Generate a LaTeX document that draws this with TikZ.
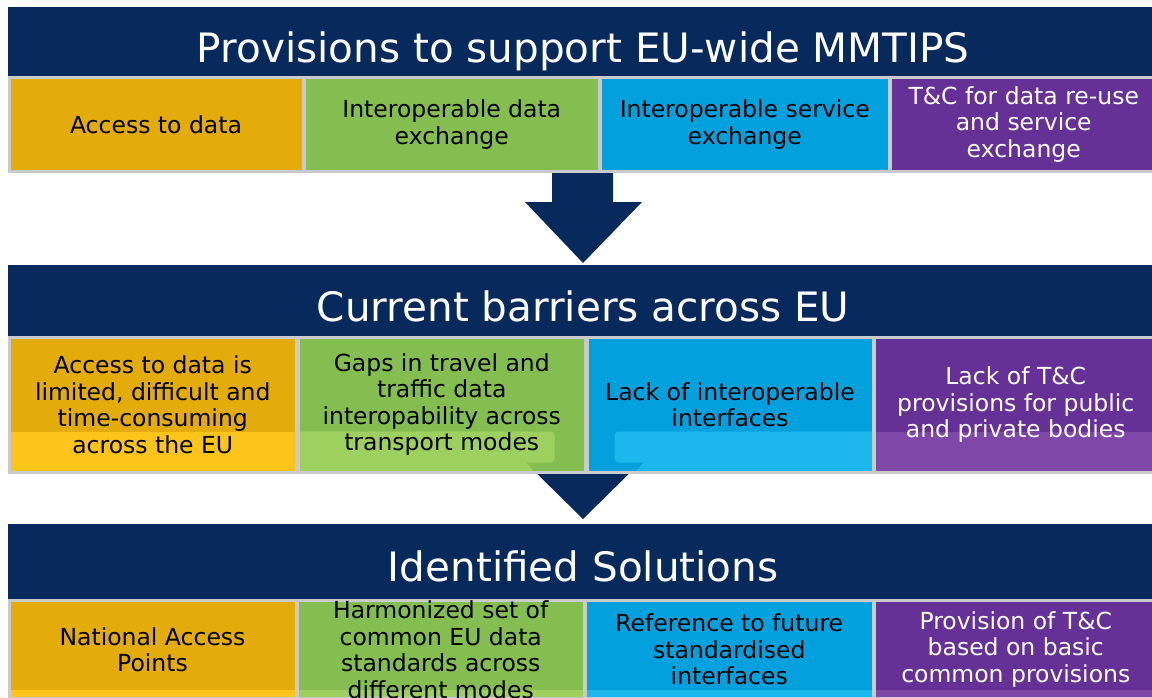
\documentclass[tikz,border=0pt]{standalone}
\usepackage{fontspec}
\setmainfont{DejaVu Sans}
\definecolor{navyband}{RGB}{8, 41, 92}
\definecolor{accorange}{RGB}{227, 172, 11}
\definecolor{accyellow}{RGB}{253, 196, 27}
\definecolor{intgreen}{RGB}{132, 190, 80}
\definecolor{intlime}{RGB}{157, 208, 95}
\definecolor{srvblue}{RGB}{2, 161, 222}
\definecolor{srvsky}{RGB}{27, 183, 237}
\definecolor{tcpurple}{RGB}{102, 49, 151}
\definecolor{tclilac}{RGB}{126, 71, 168}
\definecolor{framegray}{RGB}{200, 202, 206}
\usetikzlibrary{positioning, calc}

\begin{document}
\begin{tikzpicture}[x=1pt, y=-1pt,
  banner/.style={fill=navyband, anchor=north west, inner sep=0pt, minimum width=1150,
    text=white, text height=29.5pt, text depth=0pt, font=\fontsize{40.5}{44}\selectfont},
  cell/.style={draw=framegray, line width=3pt, anchor=north west, inner sep=0pt,
    align=center, font=\fontsize{23.5}{26.5}\selectfont},
  band/.style 2 args={path picture={
    \fill[#1] (path picture bounding box.south west) rectangle
      ([yshift=#2]path picture bounding box.south east);}}
]
  \useasboundingbox (0,0) rectangle (1152,697);

  % Banners
  \node[banner, minimum height=82] (provisions) at (8,7) {Provisions to support EU-wide MMTIPS};
  \node[banner, minimum height=84] (barriers) at (8,265) {Current barriers across EU};
  \node[banner, minimum height=86] (solutions) at (8,524) {Identified Solutions};

  % Block arrows
  \coordinate (tipA) at (583,263);
  \coordinate (tipB) at (583,519);
  \fill[navyband] (552,165) -- (613,165) -- (613,202) -- (642,202) -- (tipA)
    -- (525,202) -- (552,202) -- cycle;
  \fill[navyband] (518,455) -- (648,455) -- (tipB) -- cycle;

  % Row 1
  \node[cell, fill=accorange, minimum width=294, minimum height=94] (prov1) at (7.5,76)
    {Access to data};
  \node[cell, fill=intgreen, minimum width=294.5, minimum height=94] (prov2) at (303,76)
    {Interoperable data\\exchange};
  \node[cell, fill=srvblue, minimum width=288.5, minimum height=94] (prov3) at (599,76)
    {Interoperable service\\exchange};
  \node[cell, fill=tcpurple, text=white, minimum width=267.5, minimum height=94] (prov4) at (888.5,76)
    {T\&C for data re-use\\and service\\exchange};

  % Row 2
  \node[cell, fill=accorange, band={accyellow}{41pt}, minimum width=287.5, minimum height=135.5]
    (bar1) at (7.5,335.5)
    {Access to data is\\limited, difficult and\\time-consuming\\across the EU};
  \node[cell, fill=intgreen, minimum width=287.5, minimum height=135.5,
    path picture={
      \coordinate (sw) at (path picture bounding box.south west);
      \fill[intlime] (sw) -- ([yshift=41pt]sw) [rounded corners=4pt]
        -- ([shift={(256.5pt,41pt)}]sw) -- ([shift={(256.5pt,10pt)}]sw) [sharp corners]
        -- ([shift={(228.5pt,10pt)}]sw) -- ([shift={(236.5pt,0pt)}]sw) -- cycle;}]
    (bar2) at (296.5,335.5)
    {Gaps in travel and\\traffic data\\interopability across\\transport modes};
  \node[cell, fill=srvblue, minimum width=286, minimum height=135.5,
    path picture={
      \coordinate (sw) at (path picture bounding box.south west);
      \coordinate (se) at (path picture bounding box.south east);
      \fill[srvsky] ([shift={(47.5pt,0pt)}]sw) -- ([shift={(56.5pt,10pt)}]sw)
        [rounded corners=4pt] -- ([shift={(27.5pt,10pt)}]sw) -- ([shift={(27.5pt,41pt)}]sw)
        [sharp corners] -- ([yshift=41pt]se) -- (se) -- cycle;}]
    (bar3) at (585.5,335.5)
    {Lack of interoperable\\interfaces};
  \node[cell, fill=tcpurple, band={tclilac}{41pt}, text=white, minimum width=283.5, minimum height=135.5]
    (bar4) at (872.5,335.5)
    {Lack of T\&C\\provisions for public\\and private bodies};

  % Row 3
  \node[cell, fill=accorange, band={accyellow}{9pt}, minimum width=287, minimum height=98]
    (sol1) at (7.5,599)
    {National Access\\Points};
  \node[cell, fill=intgreen, band={intlime}{9pt}, minimum width=287.5, minimum height=98]
    (sol2) at (295.5,599)
    {Harmonized set of\\common EU data\\standards across\\different modes};
  \node[cell, fill=srvblue, band={srvsky}{9pt}, minimum width=287.5, minimum height=98]
    (sol3) at (584,599)
    {Reference to future\\standardised\\interfaces};
  \node[cell, fill=tcpurple, band={tclilac}{9pt}, text=white, minimum width=283.5, minimum height=98]
    (sol4) at (872.5,599)
    {Provision of T\&C\\based on basic\\common provisions};
\end{tikzpicture}
\end{document}
